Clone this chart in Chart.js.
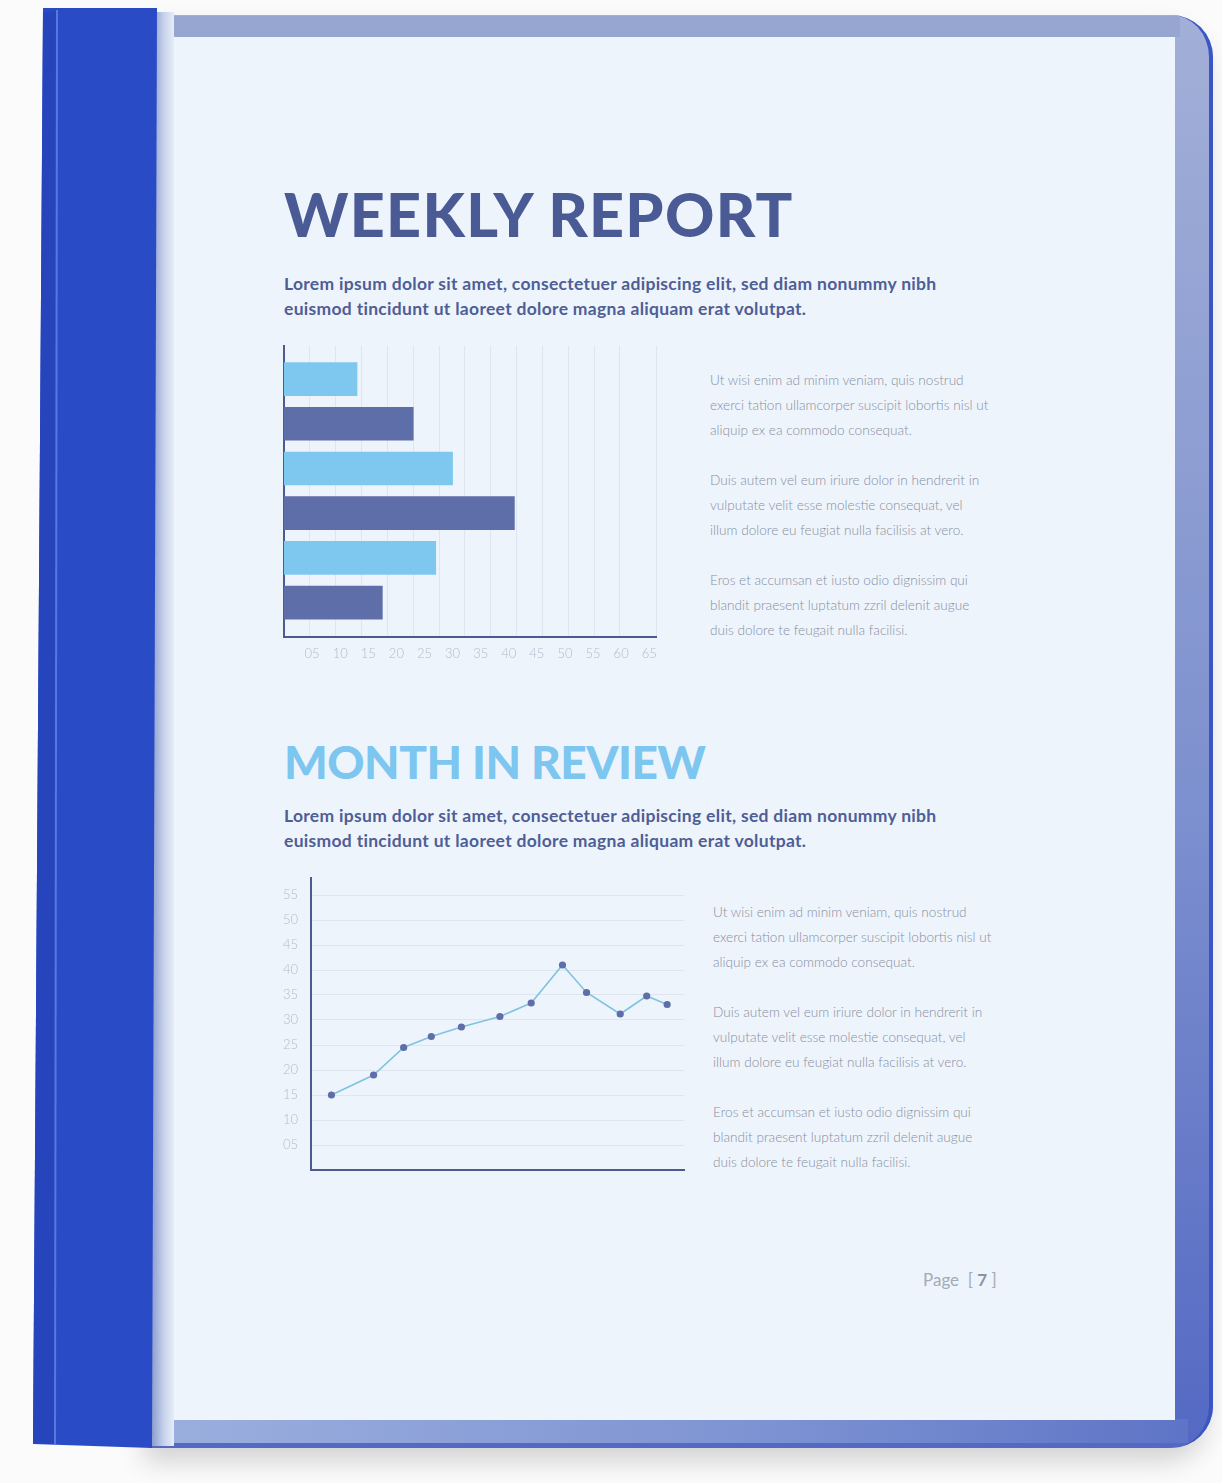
<!DOCTYPE html>
<html>
<head>
<meta charset="utf-8">
<script src="https://cdn.jsdelivr.net/npm/chart.js@4/dist/chart.umd.min.js"></script>
<style>
  html, body { margin: 0; padding: 0; }
  body { width: 1222px; height: 1483px; background: #fbfbfb; position: relative; overflow: hidden; font-family: Lato, sans-serif; }
  .abs { position: absolute; }
  /* plastic cover behind the paper */
  #cover { left: 150px; top: 15px; width: 1063px; height: 1433px; border-radius: 0 42px 42px 0;
    background: linear-gradient(to bottom, #a2afd7 0%, #7d90cf 55%, #5469c3 100%);
    box-shadow: -6px 14px 26px rgba(0,0,0,0.16); }
  #coverEdge { left: 1160px; top: 15px; width: 53px; height: 1433px; border-radius: 0 42px 42px 0;
    border-right: 4px solid #3b56c2; box-sizing: border-box; }
  #topBand { left: 170px; top: 16px; width: 1010px; height: 21px; background: #97a6d0; }
  #bottomBand { left: 158px; top: 1419px; width: 1030px; height: 24px;
    background: linear-gradient(to right, #9bafde, #7d92d2 60%, #5e74c6); }
  #paper { left: 172px; top: 37px; width: 1003px; height: 1383px; background: #eef4fc; }
  #gap { left: 150px; top: 12px; width: 24px; height: 1434px;
    background: linear-gradient(to right, #8394cb, #c9d4ec 60%, #e6edf8); }
  #spine { left: 30px; top: 6px; width: 130px; height: 1445px; background: #2a4bc6;
    clip-path: polygon(13px 2px, 127px 2px, 122px 1442px, 3px 1438px); }
  #spineStrip { left: 30px; top: 6px; width: 130px; height: 1445px; background: #2645bd;
    clip-path: polygon(13px 7px, 27px 4px, 25px 1438px, 3px 1437px); }
  #spineLine { left: 30px; top: 6px; width: 130px; height: 1445px; background: #5a78dc;
    clip-path: polygon(26px 4px, 28px 4px, 26px 1438px, 24px 1438px); }

  .title { font-weight: 900; line-height: 1; white-space: nowrap; }
  #t1 { left: 284px; top: 183px; font-size: 61px; letter-spacing: 1.3px; color: #4a5a95; }
  #t2 { left: 284px; top: 739px; font-size: 46px; letter-spacing: -0.5px; color: #7cc6ef; }
  .sub { font-weight: 700; font-size: 17.5px; letter-spacing: 0.3px; line-height: 24.5px; color: #4e5e96; white-space: nowrap; }
  #s1 { left: 284px; top: 272px; }
  #s2 { left: 284px; top: 804px; }
  .side { font-weight: 300; font-size: 13.6px; line-height: 25px; color: #878fa1; white-space: nowrap; }
  #p1 { left: 710px; top: 368px; }
  #p2 { left: 713px; top: 900px; }
  #page { left: 923px; top: 1269px; font-size: 17px; color: #a3abb8; font-weight: 400; white-space: nowrap; }
  #page b { color: #8a93a3; font-weight: 700; }
  .box { position: absolute; }
</style>
</head>
<body>
<div id="cover" class="abs"></div>
<div id="coverEdge" class="abs"></div>
<div id="topBand" class="abs"></div>
<div id="bottomBand" class="abs"></div>
<div id="paper" class="abs"></div>
<div id="gap" class="abs"></div>
<div id="spine" class="abs"></div>
<div id="spineStrip" class="abs"></div>
<div id="spineLine" class="abs"></div>

<div id="t1" class="abs title">WEEKLY REPORT</div>
<div id="s1" class="abs sub">Lorem ipsum dolor sit amet, consectetuer adipiscing elit, sed diam nonummy nibh<br>euismod tincidunt ut laoreet dolore magna aliquam erat volutpat.</div>
<div id="p1" class="abs side">Ut wisi enim ad minim veniam, quis nostrud<br>exerci tation ullamcorper suscipit lobortis nisl ut<br>aliquip ex ea commodo consequat.<br><br>Duis autem vel eum iriure dolor in hendrerit in<br>vulputate velit esse molestie consequat, vel<br>illum dolore eu feugiat nulla facilisis at vero.<br><br>Eros et accumsan et iusto odio dignissim qui<br>blandit praesent luptatum zzril delenit augue<br>duis dolore te feugait nulla facilisi.</div>

<div id="t2" class="abs title">MONTH IN REVIEW</div>
<div id="s2" class="abs sub">Lorem ipsum dolor sit amet, consectetuer adipiscing elit, sed diam nonummy nibh<br>euismod tincidunt ut laoreet dolore magna aliquam erat volutpat.</div>
<div id="p2" class="abs side">Ut wisi enim ad minim veniam, quis nostrud<br>exerci tation ullamcorper suscipit lobortis nisl ut<br>aliquip ex ea commodo consequat.<br><br>Duis autem vel eum iriure dolor in hendrerit in<br>vulputate velit esse molestie consequat, vel<br>illum dolore eu feugiat nulla facilisis at vero.<br><br>Eros et accumsan et iusto odio dignissim qui<br>blandit praesent luptatum zzril delenit augue<br>duis dolore te feugait nulla facilisi.</div>

<div id="page" class="abs">Page &nbsp;[ <b>7</b> ]</div>

<div class="box" style="left:264px; top:336px; width:412px; height:340px;"><canvas id="weeklyChart"></canvas></div>
<div class="box" style="left:261px; top:868px; width:433px; height:312px;"><canvas id="monthChart"></canvas></div>

<script>
/* ── data ── */
const weekLabels  = ['Week 1', 'Week 2', 'Week 3', 'Week 4', 'Week 5', 'Week 6'];
const weekValues  = [13, 23, 30, 41, 27, 17.5];
const weekTicks   = [5, 10, 15, 20, 25, 30, 35, 40, 45, 50, 55, 60, 65];

const monthDays   = [1.7, 5.2, 7.7, 10, 12.5, 15.7, 18.3, 20.9, 22.9, 25.7, 27.9, 29.6];
const monthValues = [15, 19, 24.5, 26.7, 28.6, 30.7, 33.4, 41, 35.5, 31.2, 34.8, 33.1];
const monthTicks  = [5, 10, 15, 20, 25, 30, 35, 40, 45, 50, 55];

/* ── look ── */
const NAVY   = '#4b5a93';
const LIGHT  = '#7ec8f0';
const DARK   = '#5e6ea8';
const GRID   = '#dfe5ee';
const TICK   = '#b3bbca';

Chart.defaults.font.family = 'Lato, sans-serif';
Chart.defaults.font.size = 13;
Chart.defaults.font.weight = 300;
Chart.defaults.color = TICK;
Chart.defaults.plugins.legend.display = false;
Chart.defaults.plugins.tooltip.enabled = false;
Chart.defaults.animation = false;

const pad2 = v => String(v).padStart(2, '0');
// no extra room for edge labels, the boxes are placed by hand
const noEdgePad = s => { s.paddingTop = 0; s.paddingBottom = 0; s.paddingLeft = 0; s.paddingRight = 0; };

/* ── 1. Weekly bars ── */
new Chart(document.getElementById('weeklyChart'), {
  type: 'bar',
  data: {
    labels: weekLabels,
    datasets: [{
      data: weekValues.map((v, i) => ({ x: v, y: i + 1 })),
      backgroundColor: weekValues.map((v, i) => i % 2 ? DARK : LIGHT),
      barThickness: 33,
      borderSkipped: false,
    }]
  },
  options: {
    indexAxis: 'y',
    responsive: true,
    maintainAspectRatio: false,
    layout: { padding: { left: 20, right: 20, top: 10, bottom: 0 } },
    scales: {
      x: {
        type: 'linear', position: 'bottom', min: 0, max: 66.2, offset: false,
        grid: { display: false },
        border: { color: NAVY, width: 2 },
        afterBuildTicks: s => { s.ticks = weekTicks.map(v => ({ value: v })); },
        afterFit: s => { s.height = 39; noEdgePad(s); },
        ticks: { padding: 1, callback: v => pad2(v), maxRotation: 0, autoSkip: false }
      },
      x2: {
        type: 'linear', position: 'bottom', min: 0, max: 14.4, offset: false,
        grid: { color: GRID, lineWidth: 1, drawTicks: false },
        border: { display: false },
        ticks: { display: false, stepSize: 1 },
        afterFit: s => { s.height = 0; noEdgePad(s); }
      },
      y: {
        type: 'linear', min: 0.26, max: 6.77, reverse: true, offset: false,
        grid: { display: false, offset: false },
        border: { color: NAVY, width: 2 },
        ticks: { display: false },
        afterFit: s => { s.width = 0; noEdgePad(s); }
      }
    }
  }
});

/* ── 2. Monthly line ── */
new Chart(document.getElementById('monthChart'), {
  type: 'line',
  data: {
    datasets: [{
      data: monthDays.map((d, i) => ({ x: d, y: monthValues[i] })),
      borderColor: '#7fc3e0',
      borderWidth: 1.6,
      pointRadius: 3.6,
      pointBackgroundColor: DARK,
      pointBorderWidth: 0,
      tension: 0,
      fill: false,
    }]
  },
  options: {
    responsive: true,
    maintainAspectRatio: false,
    layout: { padding: { left: 0, right: 10, top: 10, bottom: 10 } },
    scales: {
      x: {
        type: 'linear', min: 0, max: 31,
        grid: { display: false },
        border: { color: NAVY, width: 2 },
        ticks: { display: false },
        afterFit: s => { s.height = 0; noEdgePad(s); }
      },
      y: {
        type: 'linear', min: 0, max: 58.4,
        grid: { color: GRID, drawTicks: false },
        border: { color: NAVY, width: 2 },
        afterBuildTicks: s => { s.ticks = monthTicks.map(v => ({ value: v })); },
        afterFit: s => { s.width = 50; noEdgePad(s); },
        ticks: { padding: 13, callback: v => pad2(v), autoSkip: false }
      }
    }
  }
});
</script>
</body>
</html>
